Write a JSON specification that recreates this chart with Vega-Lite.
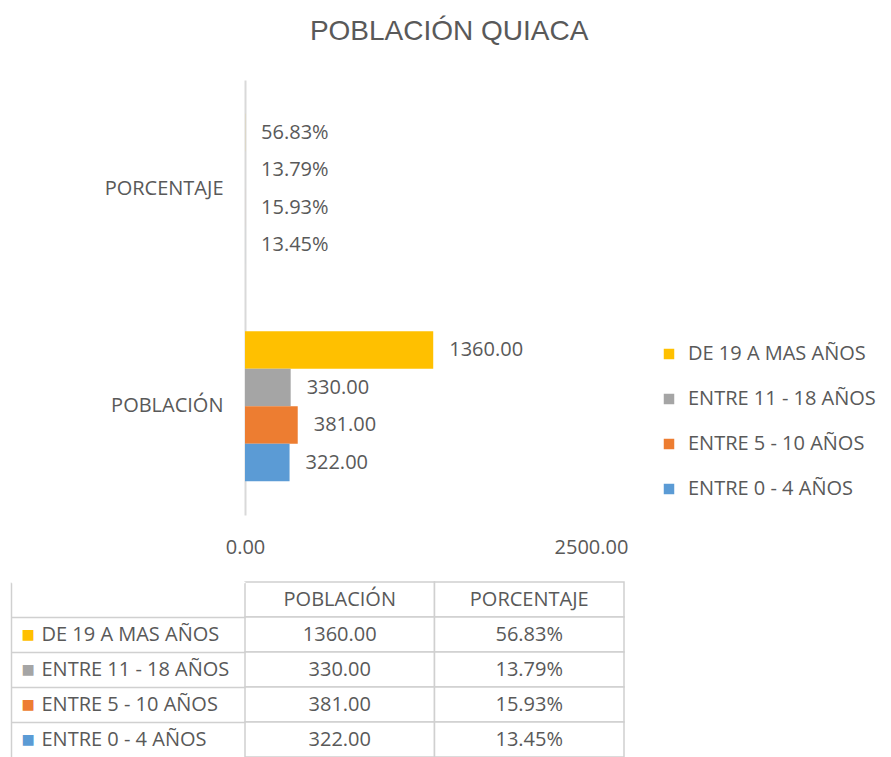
{
  "$schema": "https://vega.github.io/schema/vega-lite/v6.json",
  "padding": {"left": 10, "top": 18, "right": 0, "bottom": 0},
  "background": "white",
  "title": {"text": "POBLACIÓN QUIACA", "font": "Liberation Sans", "fontSize": 28, "fontWeight": "normal", "color": "#595959", "anchor": "middle", "frame": "bounds", "offset": 34, "dx": 6},
  "datasets": {
    "grafico": [
      {"medida": "POBLACIÓN", "grupo": "DE 19 A MAS AÑOS", "valor": 1360, "etiqueta": "1360.00"},
      {"medida": "POBLACIÓN", "grupo": "ENTRE 11 - 18 AÑOS", "valor": 330, "etiqueta": "330.00"},
      {"medida": "POBLACIÓN", "grupo": "ENTRE 5 - 10 AÑOS", "valor": 381, "etiqueta": "381.00"},
      {"medida": "POBLACIÓN", "grupo": "ENTRE 0 - 4 AÑOS", "valor": 322, "etiqueta": "322.00"},
      {"medida": "PORCENTAJE", "grupo": "DE 19 A MAS AÑOS", "valor": 0.5683, "etiqueta": "56.83%"},
      {"medida": "PORCENTAJE", "grupo": "ENTRE 11 - 18 AÑOS", "valor": 0.1379, "etiqueta": "13.79%"},
      {"medida": "PORCENTAJE", "grupo": "ENTRE 5 - 10 AÑOS", "valor": 0.1593, "etiqueta": "15.93%"},
      {"medida": "PORCENTAJE", "grupo": "ENTRE 0 - 4 AÑOS", "valor": 0.1345, "etiqueta": "13.45%"}
    ],
    "tabla": [
      {"fila": "ENCABEZADO", "columna": "POBLACIÓN", "texto": "POBLACIÓN"},
      {"fila": "ENCABEZADO", "columna": "PORCENTAJE", "texto": "PORCENTAJE"},
      {"fila": "DE 19 A MAS AÑOS", "columna": "POBLACIÓN", "texto": "1360.00"},
      {"fila": "DE 19 A MAS AÑOS", "columna": "PORCENTAJE", "texto": "56.83%"},
      {"fila": "ENTRE 11 - 18 AÑOS", "columna": "POBLACIÓN", "texto": "330.00"},
      {"fila": "ENTRE 11 - 18 AÑOS", "columna": "PORCENTAJE", "texto": "13.79%"},
      {"fila": "ENTRE 5 - 10 AÑOS", "columna": "POBLACIÓN", "texto": "381.00"},
      {"fila": "ENTRE 5 - 10 AÑOS", "columna": "PORCENTAJE", "texto": "15.93%"},
      {"fila": "ENTRE 0 - 4 AÑOS", "columna": "POBLACIÓN", "texto": "322.00"},
      {"fila": "ENTRE 0 - 4 AÑOS", "columna": "PORCENTAJE", "texto": "13.45%"}
    ]
  },
  "spacing": 24,
  "vconcat": [
    {
      "width": 346,
      "height": 435,
      "data": {"name": "grafico"},
      "encoding": {
        "y": {
          "field": "medida", "type": "nominal", "sort": ["PORCENTAJE", "POBLACIÓN"],
          "scale": {"paddingInner": 0, "paddingOuter": 0},
          "axis": {"title": null, "ticks": false, "grid": false, "domain": true, "domainColor": "#d9d9d9", "domainWidth": 2, "labelFont": "Open Sans", "labelFontSize": 20, "labelColor": "#595959", "labelPadding": 22}
        },
        "yOffset": {
          "field": "grupo", "type": "nominal",
          "sort": ["DE 19 A MAS AÑOS", "ENTRE 11 - 18 AÑOS", "ENTRE 5 - 10 AÑOS", "ENTRE 0 - 4 AÑOS"],
          "scale": {"paddingInner": 0, "paddingOuter": 0.9}
        },
        "x": {
          "field": "valor", "type": "quantitative",
          "scale": {"domain": [0, 2500], "nice": false},
          "axis": {"title": null, "values": [0, 2500], "format": ".2f", "labelFlush": false, "domain": false, "ticks": false, "grid": false, "labelPadding": 22, "labelFont": "Open Sans", "labelFontSize": 20, "labelColor": "#595959"}
        }
      },
      "layer": [
        {
          "mark": {"type": "bar"},
          "encoding": {
            "color": {
              "field": "grupo", "type": "nominal",
              "sort": ["DE 19 A MAS AÑOS", "ENTRE 11 - 18 AÑOS", "ENTRE 5 - 10 AÑOS", "ENTRE 0 - 4 AÑOS"],
              "scale": {"domain": ["DE 19 A MAS AÑOS", "ENTRE 11 - 18 AÑOS", "ENTRE 5 - 10 AÑOS", "ENTRE 0 - 4 AÑOS"], "range": ["#FFC000", "#A5A5A5", "#ED7D31", "#5B9BD5"]},
              "legend": {"title": null, "orient": "none", "legendX": 414, "legendY": 264, "symbolType": "square", "symbolSize": 110, "symbolStrokeWidth": 0, "labelFont": "Open Sans", "labelFontSize": 20, "labelColor": "#595959", "labelLimit": 0, "rowPadding": 25, "labelOffset": 9, "padding": 0}
            }
          }
        },
        {
          "mark": {"type": "text", "align": "left", "baseline": "middle", "dx": 16, "font": "Open Sans", "fontSize": 20, "color": "#595959"},
          "encoding": {"text": {"field": "etiqueta", "type": "nominal"}}
        }
      ]
    },
    {
      "width": 379,
      "height": 175,
      "data": {"name": "tabla"},
      "layer": [
        {
          "mark": {"type": "rect", "fill": "white", "stroke": "#d0d0d0", "strokeWidth": 1.5},
          "encoding": {
            "x": {"field": "columna", "type": "nominal", "sort": ["POBLACIÓN", "PORCENTAJE"], "scale": {"paddingInner": 0, "paddingOuter": 0}, "axis": null},
            "y": {
              "field": "fila", "type": "nominal",
              "sort": ["ENCABEZADO", "DE 19 A MAS AÑOS", "ENTRE 11 - 18 AÑOS", "ENTRE 5 - 10 AÑOS", "ENTRE 0 - 4 AÑOS"],
              "scale": {"paddingInner": 0, "paddingOuter": 0},
              "axis": {
                "orient": "left", "title": null, "domain": false, "grid": false,
                "ticks": true, "bandPosition": 0, "tickExtra": false, "tickSize": 234, "tickWidth": 1.5,
                "tickColor": {"condition": {"test": "datum.value === 'ENCABEZADO'", "value": "white"}, "value": "#d0d0d0"},
                "labelAlign": "left", "labelPadding": -30, "labelLimit": 0,
                "labelExpr": "datum.value === 'ENCABEZADO' ? '' : datum.value",
                "labelFont": "Open Sans", "labelFontSize": 20, "labelColor": "#595959"
              }
            }
          }
        },
        {
          "mark": {"type": "text", "align": "center", "baseline": "middle", "font": "Open Sans", "fontSize": 20, "color": "#595959"},
          "encoding": {
            "x": {"field": "columna", "type": "nominal", "sort": ["POBLACIÓN", "PORCENTAJE"], "scale": {"paddingInner": 0, "paddingOuter": 0}, "axis": null},
            "y": {
              "field": "fila", "type": "nominal",
              "sort": ["ENCABEZADO", "DE 19 A MAS AÑOS", "ENTRE 11 - 18 AÑOS", "ENTRE 5 - 10 AÑOS", "ENTRE 0 - 4 AÑOS"],
              "scale": {"paddingInner": 0, "paddingOuter": 0},
              "axis": {
                "orient": "left", "title": null, "offset": 234,
                "domain": true, "domainColor": "#d0d0d0", "domainWidth": 1.5,
                "ticks": false, "grid": false,
                "labelAlign": "left", "labelPadding": -10,
                "labelExpr": "datum.value === 'ENCABEZADO' ? '' : '■'",
                "labelFont": "DejaVu Sans", "labelFontSize": 14,
                "labelColor": {"expr": "datum.value === 'DE 19 A MAS AÑOS' ? '#FFC000' : datum.value === 'ENTRE 11 - 18 AÑOS' ? '#A5A5A5' : datum.value === 'ENTRE 5 - 10 AÑOS' ? '#ED7D31' : '#5B9BD5'"}
              }
            },
            "text": {"field": "texto", "type": "nominal"}
          }
        }
      ],
      "resolve": {"scale": {"y": "independent"}, "axis": {"y": "independent"}}
    }
  ],
  "config": {"view": {"stroke": null}, "font": "Open Sans"}
}
